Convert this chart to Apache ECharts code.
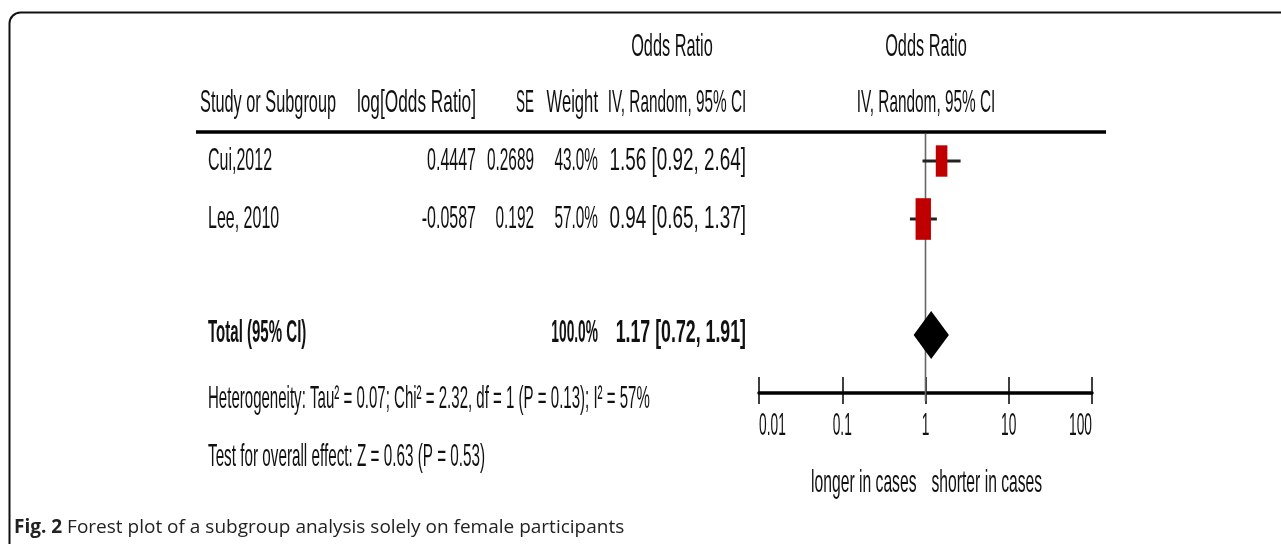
<!DOCTYPE html>
<html>
<head>
<meta charset="utf-8">
<script src="https://cdn.jsdelivr.net/npm/echarts@6/dist/echarts.min.js"></script>
<style>
html,body{margin:0;padding:0;background:#fff;}
#chart{width:1281px;height:544px;}
</style>
</head>
<body>
<div id="chart"></div>
<script>
// ---- data ----
const studies = ['Cui,2012', 'Lee, 2010'];
const logOddsRatio = ['0.4447', '-0.0587'];
const stdErr = ['0.2689', '0.192'];
const weights = [43.0, 57.0];
const oddsRatio = [1.56, 0.94];
const ciLow = [0.92, 0.65];
const ciHigh = [2.64, 1.37];
const totalLabel = 'Total (95% CI)';
const totalWeight = 100.0;
const totalOR = 1.17;
const totalLow = 0.72;
const totalHigh = 1.91;
const heterogeneity = 'Heterogeneity: Tau² = 0.07; Chi² = 2.32, df = 1 (P = 0.13); I² = 57%';
const overallEffect = 'Test for overall effect: Z = 0.63 (P = 0.53)';
const tickValues = [0.01, 0.1, 1, 10, 100];
const tickLabels = ['0.01', '0.1', '1', '10', '100'];
const favourLeft = 'longer in cases';
const favourRight = 'shorter in cases';
const caption = 'Forest plot of a subgroup analysis solely on female participants';

// ---- styling helpers ----
const FONT = "'Liberation Sans', Arial, sans-serif";
const FS = 32, INK = '#111';
function txt(text, x, y, align, sx, bold) {
  return {
    type: 'text', x: x, y: y, scaleX: sx, silent: true,
    style: { text: text, x: 0, y: 0, font: (bold ? 'bold ' : '') + FS + 'px ' + FONT,
      textAlign: align, textVerticalAlign: 'middle', fill: INK }
  };
}
const fmtCI = (o, l, h) => o.toFixed(2) + ' [' + l.toFixed(2) + ', ' + h.toFixed(2) + ']';

// columns (layout)
const COL = { name: 208, logor: 476, se: 534, weight: 598, ci: 746 };
const SXC = { name: 0.5, logor: 0.5, se: 0.48, weight: 0.48, ci: 0.59 };
const TOTAL_ROW = 4;

const rows = studies.map((s, i) => [oddsRatio[i], ciLow[i], ciHigh[i], weights[i], i + 1]);

const chart = echarts.init(document.getElementById('chart'), null, { renderer: 'canvas' });
chart.setOption({
  animation: false,
  backgroundColor: '#fff',
  grid: { left: 759, right: 189, top: 132, bottom: 151, containLabel: false },
  xAxis: [{
    type: 'log', logBase: 10, min: 0.01, max: 100,
    axisLine: { show: true, lineStyle: { color: '#000', width: 3.5 } },
    axisTick: { show: true, inside: true, length: 16, lineStyle: { color: '#000', width: 1.5 } },
    axisLabel: { show: false }, splitLine: { show: false }
  }, {
    type: 'log', logBase: 10, min: 0.01, max: 100, position: 'bottom',
    axisLine: { show: false },
    axisTick: { show: true, inside: false, length: 11, lineStyle: { color: '#000', width: 1.5 } },
    axisLabel: { show: false }, splitLine: { show: false }
  }],
  yAxis: { type: 'value', min: 0.5, max: 5, inverse: true, show: false },
  series: [
    { // line of no effect at OR = 1
      type: 'custom', name: 'noEffect', data: [[1, 0.5, 5]], encode: { x: 0, y: [1, 2] },
      renderItem: function (params, api) {
        const a = api.coord([api.value(0), api.value(1)]);
        const b = api.coord([api.value(0), api.value(2)]);
        return { type: 'line', shape: { x1: a[0], y1: a[1] + 2, x2: b[0], y2: b[1] + 8 },
          style: { stroke: '#666', lineWidth: 1.6 } };
      }
    },
    { // study rows: CI lines + weighted boxes
      type: 'custom', name: 'studies', data: rows, encode: { x: [0, 1, 2], y: 4 },
      renderItem: function (params, api) {
        const row = api.value(4);
        const c = api.coord([api.value(0), row]);
        const lo = api.coord([api.value(1), row]);
        const hi = api.coord([api.value(2), row]);
        const h = api.value(3) * 0.73, w = h * 0.37;
        return { type: 'group', children: [
          { type: 'line', shape: { x1: lo[0], y1: lo[1], x2: hi[0], y2: hi[1] },
            style: { stroke: '#222', lineWidth: 3 } },
          { type: 'rect', shape: { x: c[0] - w / 2, y: c[1] - h / 2, width: w, height: h },
            style: { fill: '#c00000' } }
        ]};
      }
    },
    { // pooled diamond
      type: 'custom', name: 'total', data: [[totalOR, totalLow, totalHigh, TOTAL_ROW]],
      encode: { x: [0, 1, 2], y: 3 },
      renderItem: function (params, api) {
        const row = api.value(3);
        const c = api.coord([api.value(0), row]);
        const lo = api.coord([api.value(1), row]);
        const hi = api.coord([api.value(2), row]);
        const hh = 24;
        return { type: 'polygon', shape: { points: [[lo[0], c[1]], [c[0], c[1] - hh], [hi[0], c[1]], [c[0], c[1] + hh]] },
          style: { fill: '#000' } };
      }
    },
    { // table text for study rows
      type: 'custom', name: 'table', data: rows, encode: { y: 4 },
      renderItem: function (params, api) {
        const i = params.dataIndex;
        const y = api.coord([1, api.value(4)])[1];
        return { type: 'group', children: [
          txt(studies[i], COL.name, y, 'left', SXC.name),
          txt(logOddsRatio[i], COL.logor, y, 'right', SXC.logor),
          txt(stdErr[i], COL.se, y, 'right', SXC.se),
          txt(weights[i].toFixed(1) + '%', COL.weight, y, 'right', SXC.weight),
          txt(fmtCI(oddsRatio[i], ciLow[i], ciHigh[i]), COL.ci, y, 'right', SXC.ci)
        ]};
      }
    },
    { // table text for total row
      type: 'custom', name: 'totalText', data: [[1, TOTAL_ROW]], encode: { x: 0, y: 1 },
      renderItem: function (params, api) {
        const y = api.coord([1, api.value(1)])[1] - 2;
        return { type: 'group', children: [
          txt(totalLabel, COL.name, y, 'left', 0.47, true),
          txt(totalWeight.toFixed(1) + '%', COL.weight, y, 'right', 0.43, true),
          txt(fmtCI(totalOR, totalLow, totalHigh), COL.ci, y, 'right', 0.555, true)
        ]};
      }
    },
    { // tick labels
      type: 'custom', name: 'ticks', data: tickValues.map((v) => [v, 5]), encode: { x: 0, y: 1 },
      renderItem: function (params, api) {
        const i = params.dataIndex;
        const p = api.coord([api.value(0), api.value(1)]);
        const align = i === 0 ? 'left' : (i === tickValues.length - 1 ? 'right' : 'center');
        return txt(tickLabels[i], p[0], p[1] + 33, align, 0.43);
      }
    },
    { // favours labels
      type: 'custom', name: 'favours', data: [[1, 5]], encode: { x: 0, y: 1 },
      renderItem: function (params, api) {
        const p = api.coord([api.value(0), api.value(1)]);
        return { type: 'group', children: [
          txt(favourLeft, p[0] - 9, p[1] + 90, 'right', 0.49),
          txt(favourRight, p[0] + 6, p[1] + 90, 'left', 0.49)
        ]};
      }
    }
  ],
  graphic: [
    { type: 'rect', silent: true, shape: { x: 9.5, y: 12.5, width: 1400, height: 700, r: 11 },
      style: { fill: 'none', stroke: '#111', lineWidth: 2 } },
    { type: 'line', silent: true, shape: { x1: 196, y1: 132, x2: 1106, y2: 132 },
      style: { stroke: '#000', lineWidth: 3.5 } },
    txt('Odds Ratio', 672, 47, 'center', 0.51),
    txt('Odds Ratio', 926, 47, 'center', 0.51),
    txt('Study or Subgroup', 200, 103, 'left', 0.51),
    txt('log[Odds Ratio]', 476, 103, 'right', 0.54),
    txt('SE', 534, 103, 'right', 0.42),
    txt('Weight', 598, 103, 'right', 0.52),
    txt('IV, Random, 95% CI', 677, 103, 'center', 0.48),
    txt('IV, Random, 95% CI', 926, 103, 'center', 0.48),
    txt(heterogeneity, COL.name, 399, 'left', 0.47),
    txt(overallEffect, COL.name, 457, 'left', 0.477),
    { type: 'text', silent: true, x: 14, y: 528,
      style: { text: '{b|Fig. 2} ' + caption, font: "19px 'Open Sans', sans-serif", fill: '#222',
        textVerticalAlign: 'middle',
        rich: { b: { fontWeight: 'bold', fontSize: 19, fontFamily: 'Open Sans', fill: '#222' } } } }
  ]
});
</script>
</body>
</html>
